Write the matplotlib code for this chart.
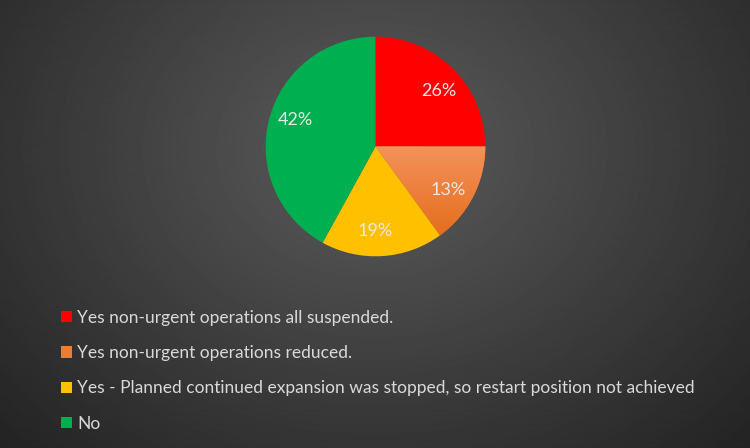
import numpy as np
import matplotlib.pyplot as plt
from matplotlib.patches import Patch
from matplotlib.colors import LinearSegmentedColormap

labels = ['Yes non-urgent operations all suspended.',
          'Yes non-urgent operations reduced.',
          'Yes - Planned continued expansion was stopped, so restart position not achieved',
          'No']
# slice sizes as drawn in the original, and the percentages printed on them
shares = [25, 15, 18, 42]
pct_labels = ['26%', '13%', '19%', '42%']
colors = ['#ff0000', '#ef7d31', '#ffc000', '#00b050']

plt.rcParams['font.family'] = ['Lato', 'DejaVu Sans']

fig = plt.figure(figsize=(7.5, 4.48), dpi=100)

# radial gradient background
bg = fig.add_axes([0, 0, 1, 1])
yy, xx = np.mgrid[0:448, 0:750]
d = np.sqrt(((xx - 375) / 520) ** 2 + ((yy - 150) / 420) ** 2)
shade = np.clip(0.36 - 0.22 * d, 0.13, 0.36)
bg.imshow(shade, cmap='gray', vmin=0, vmax=1, aspect='auto', extent=[0, 1, 0, 1])
bg.axis('off')

# pie
ax = fig.add_axes([(375.5 - 112) / 750, 1 - (146.5 + 112) / 448, 224 / 750, 224 / 448])
wedges, texts = ax.pie(shares, colors=colors, startangle=90, counterclock=False,
                       radius=1.0, wedgeprops=dict(linewidth=0))
ax.set_xlim(-1.02, 1.02)
ax.set_ylim(-1.02, 1.02)

# orange slice gets a vertical gradient like the original
grad = np.linspace(0, 1, 100).reshape(-1, 1)
ocmap = LinearSegmentedColormap.from_list('o', ['#e46c1a', '#f4935c'])
im = ax.imshow(grad, cmap=ocmap, extent=[-0.05, 1.02, -0.85, 0.02], origin='lower',
               aspect='auto', zorder=2)
im.set_clip_path(wedges[1])

for w, t in zip(wedges, pct_labels):
    # labels sit a little off the middle of each slice, as in the original
    ang = np.deg2rad((w.theta1 + w.theta2) / 2 - 4)
    ax.text(0.77 * np.cos(ang), 0.77 * np.sin(ang), t, ha='center', va='center',
            fontsize=13, color='#e8e8e8', zorder=3)

ax.set_aspect('equal')
ax.axis('off')

# legend
handles = [Patch(facecolor=c, edgecolor='none') for c in colors]
leg = fig.legend(handles, labels, loc='upper left', bbox_to_anchor=(0.072, 0.324),
                 frameon=False, fontsize=12.5, labelcolor='#d9d9d9',
                 handlelength=0.62, handleheight=0.62, handletextpad=0.3,
                 labelspacing=1.11, borderaxespad=0)

fig.savefig('out.png', dpi=100)
